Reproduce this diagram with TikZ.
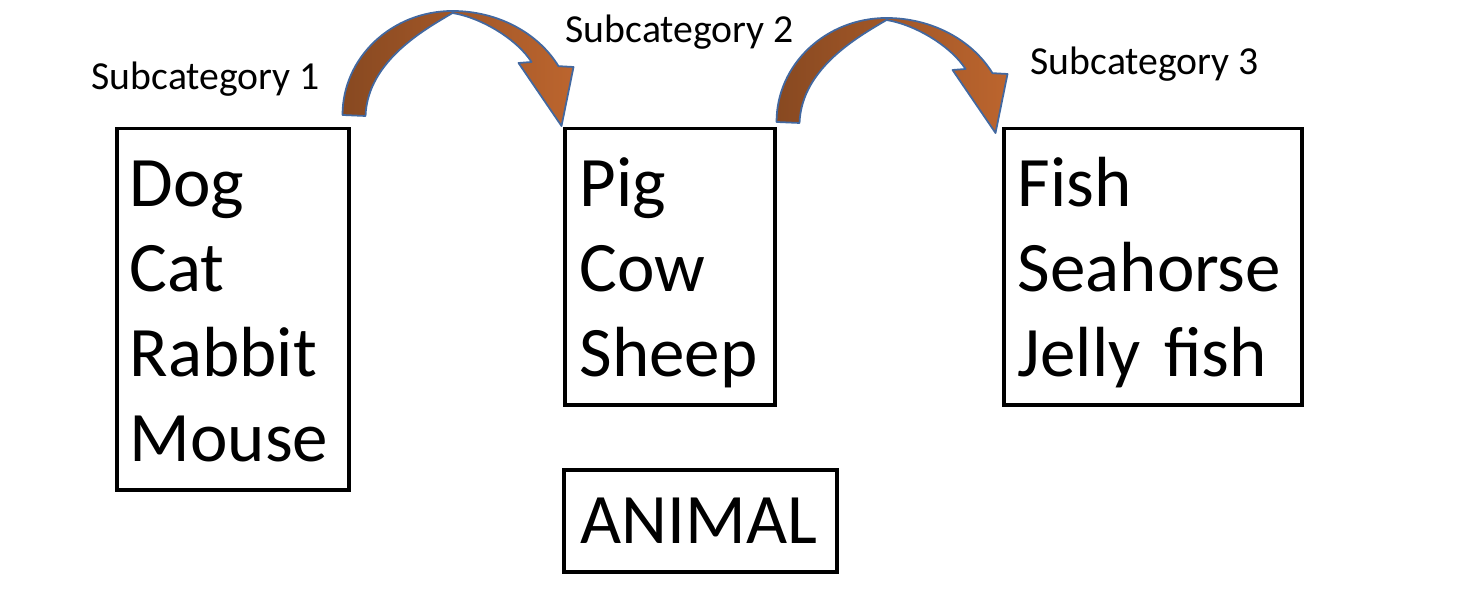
\documentclass[tikz,border=0pt]{standalone}
\usepackage{fontspec}
\setmainfont{Carlito}
\usepackage{tikz}
\usetikzlibrary{positioning}

\definecolor{arrowbrown}{RGB}{136,73,33}
\definecolor{arroworange}{RGB}{188,101,46}
\definecolor{arrowedge}{RGB}{66,104,160}

\newcommand{\bigtext}{\fontsize{20.2}{24.2}\selectfont}
\newcommand{\smalltext}{\fontsize{11.3}{13}\selectfont}

\begin{document}
\begin{tikzpicture}[
    listbox/.style={draw, line width=1pt, anchor=north west, align=left,
        font=\bigtext, inner ysep=0.28cm, text height=0.5cm},
    sublabel/.style={anchor=base west, font=\smalltext, inner sep=0pt},
    arrowline/.style={draw=arrowedge, line width=0.5pt, line join=round,
        left color=arrowbrown, right color=arroworange},
    bentarrow/.pic={
        \path[arrowline] (0,0)
            arc[start angle=180, end angle=90, x radius=1.10, y radius=1.04]
            arc[start angle=90, end angle=28, x radius=1.20, y radius=1.04]
            -- (2.31,0.48) -- (2.19,-0.11) -- (1.76,0.52) -- (1.89,0.53)
            .. controls (1.75,0.75) and (1.40,0.97) .. (1.10,1.02)
            .. controls (0.85,0.87) and (0.25,0.55) .. (0.23,-0.01)
            -- cycle;
    }
]
    \useasboundingbox (0,0) rectangle (14.76,6.16);

    % Subcategory 1
    \node[listbox, inner xsep=0.13cm, text width=2.06cm, text depth=2.55cm]
        (pets) at (1.15,4.89) {Dog\\Cat\\Rabbit\\Mouse};
    \node[sublabel] (sub1) at (0.91,5.26) {Subcategory 1};

    % Subcategory 2
    \node[listbox, inner xsep=0.15cm, text width=1.80cm, text depth=1.70cm]
        (farm) at (5.63,4.89) {Pig\\Cow\\Sheep};
    \node[sublabel] (sub2) at (5.65,5.73) {Subcategory 2};

    % Subcategory 3
    \node[listbox, inner xsep=0.14cm, text width=2.70cm, text depth=1.70cm]
        (sea) at (10.02,4.89) {Fish\\Seahorse\\Jelly fish};
    \node[sublabel] (sub3) at (10.30,5.41) {Subcategory 3};

    % Category
    \node[listbox, inner xsep=0.17cm, text width=2.39cm, text height=0.46cm,
        text depth=0cm] (animal) at (5.62,1.48) {ANIMAL};

    % Curved arrows between the boxes
    \pic at ([shift={(-0.08,0.12)}]pets.north east) {bentarrow};
    \pic at ([shift={(0,0.05)}]farm.north east) {bentarrow};
\end{tikzpicture}
\end{document}
